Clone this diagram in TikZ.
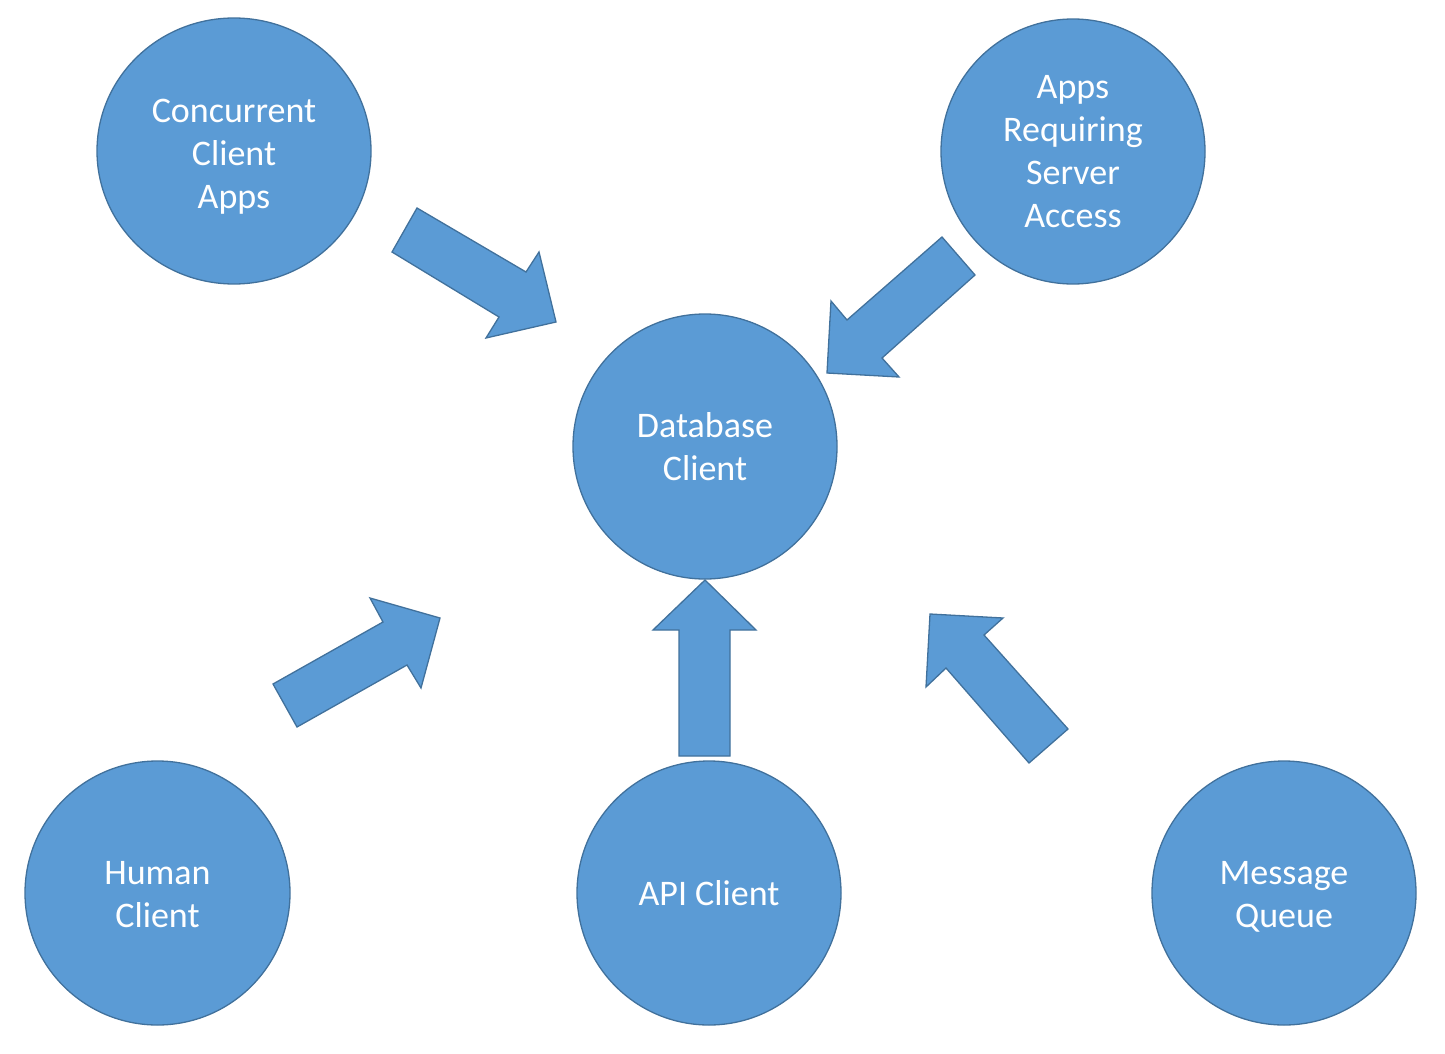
\documentclass[tikz,border=0pt]{standalone}
\usepackage{fontspec}
\setmainfont{Carlito}
\usetikzlibrary{shapes.geometric}
\definecolor{fillblue}{HTML}{5B9BD5}
\definecolor{edgeblue}{HTML}{41719C}
\tikzset{
  bubble/.style={ellipse, fill=fillblue, draw=edgeblue, line width=1.3pt,
    inner sep=0pt, align=center, text=white,
    font=\fontsize{36}{43}\selectfont},
  label text/.style={text=white, align=center, inner sep=0pt, font=\fontsize{36}{43}\selectfont},
  blockarrow/.style={fill=fillblue, draw=edgeblue, line width=1.3pt, line join=miter}
}
\begin{document}
\begin{tikzpicture}[x=1pt,y=-1pt]
\useasboundingbox (0,0) rectangle (1445,1054);
\node[bubble, minimum width=274pt, minimum height=266pt] (conc) at (234,151) {};
\node[label text] (conctext) at (234,157) {Concurrent\\Client\\Apps};
\node[bubble, minimum width=264pt, minimum height=265pt] (apps) at (1073,151.5) {Apps\\Requiring\\Server\\Access};
\node[bubble, minimum width=264pt, minimum height=265pt] (db) at (705,446.5) {Database\\Client};
\node[bubble, minimum width=265pt, minimum height=264pt] (human) at (157.5,893) {};
\node[label text] (humantext) at (157.5,895) {Human\\Client};
\node[bubble, minimum width=264pt, minimum height=264pt] (api) at (709,893) {API Client};
\node[bubble, minimum width=264pt, minimum height=264pt] (mq) at (1284,893) {};
\node[label text] (mqtext) at (1284,897) {Message\\Queue};
% block arrows
\draw[blockarrow] (417,208) -- (392,252) -- (499,317) -- (486,338) -- (556,322) -- (539,252) -- (526,272) -- cycle;
\draw[blockarrow] (942,237) -- (975,275) -- (882,358) -- (899,377) -- (827,373) -- (831,301) -- (847,320) -- cycle;
\draw[blockarrow] (705,580) -- (756,630) -- (730,630) -- (730,756) -- (679,756) -- (679,630) -- (653,630) -- cycle;
\draw[blockarrow] (273,684) -- (297,727) -- (407,665) -- (421,688) -- (440,618) -- (370,598) -- (383,622) -- cycle;
\draw[blockarrow] (930,614) -- (1003,618) -- (984,635) -- (1068,729) -- (1029,763) -- (946,668) -- (926,687) -- cycle;
\end{tikzpicture}
\end{document}
